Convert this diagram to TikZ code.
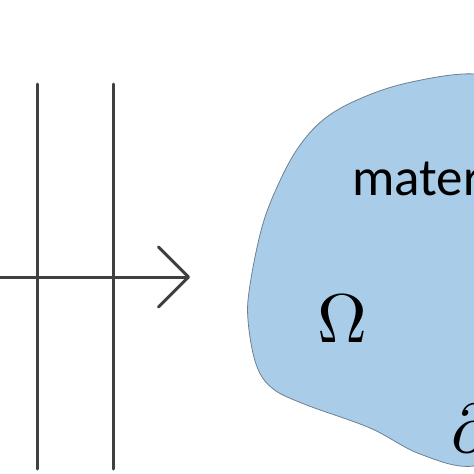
\documentclass[tikz,border=0pt]{standalone}
\usepackage{graphicx}
\usepackage{fontspec}
\newfontfamily\labelfont{Carlito}
\usetikzlibrary{arrows.meta}
\definecolor{domainblue}{RGB}{169,205,233}
\definecolor{edgegray}{RGB}{110,128,144}
\definecolor{waveline}{RGB}{64,64,64}
\tikzset{
  front/.style={line width=3pt, draw=waveline, line cap=round},
  tag/.style={inner sep=0pt, text=black}
}
\begin{document}
\begin{tikzpicture}[x=1pt,y=-1pt]
\clip (0,0) rectangle (474,474);
\fill[white] (0,0) rectangle (474,474);
% wave fronts
\coordinate (f1top) at (37,84);
\coordinate (f1bot) at (37,469);
\coordinate (f2top) at (113,84);
\coordinate (f2bot) at (113,469);
\draw[front] (f1top) -- (f1bot);
\draw[front] (f2top) -- (f2bot);
% direction of travel
\coordinate (start) at (-5,277);
\coordinate (tip) at (190,277);
\draw[front, -{Straight Barb[length=30pt,width=60pt,line cap=round,line join=round]}] (start) -- (tip);
% the material domain
\draw[fill=domainblue, draw=edgegray, line width=0.8pt]
  plot[smooth cycle, tension=0.6] coordinates {
    (474,74) (407,83) (357,100) (323,120) (298,148) (278,185)
    (262,227) (250,285) (248,320) (256,364) (272,388) (304,404)
    (370,428) (420,454) (474,466) (530,440) (540,200) (520,90)};
\node[tag, anchor=base west, font=\labelfont\fontsize{53}{62}\selectfont] (material) at (352,195) {mater};
\node[tag, anchor=base] (omega) at (342.5,342) {\scalebox{6.9}{$\Omega$}};
\node[tag, anchor=base west] (boundary) at (451,452) {\scalebox{6.9}{$\partial$}};
\end{tikzpicture}
\end{document}
